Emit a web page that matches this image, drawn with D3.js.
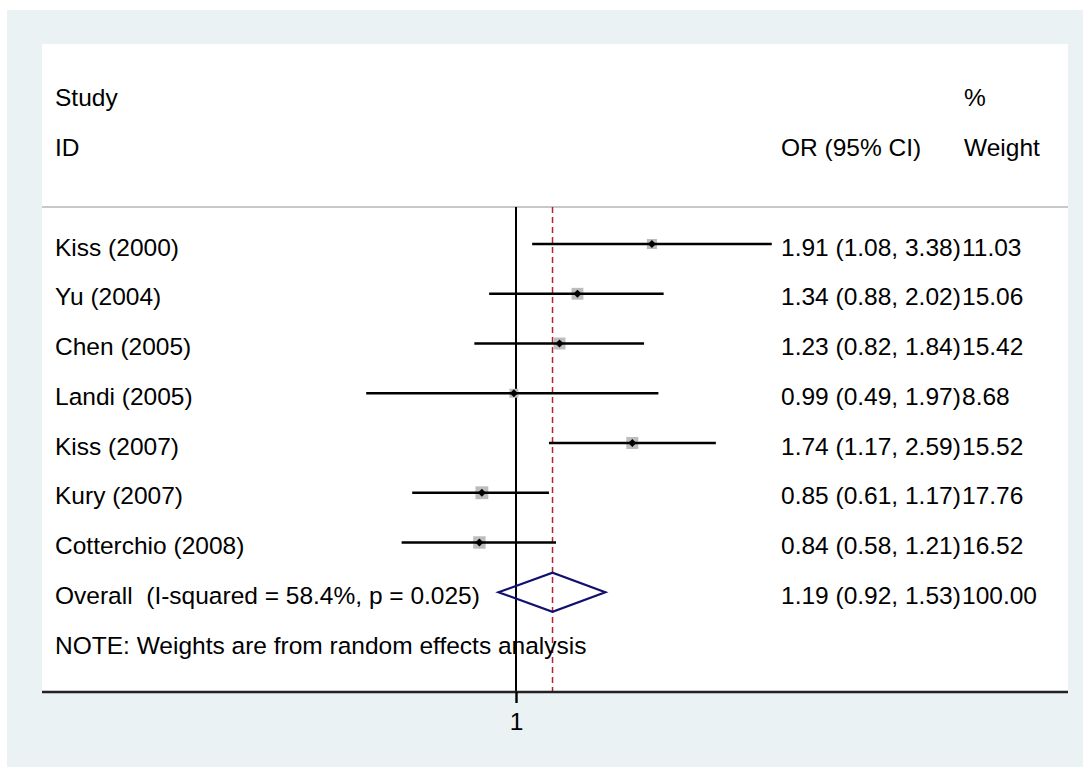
<!DOCTYPE html>
<html>
<head>
<meta charset="utf-8">
<script src="https://cdn.jsdelivr.net/npm/d3@7"></script>
<style>
  html, body { margin: 0; padding: 0; background: #ffffff; }
  svg { display: block; }
  text { font-family: "Liberation Sans", Arial, Helvetica, sans-serif; font-size: 24.5px; fill: #000; white-space: pre; }
</style>
</head>
<body>
<svg id="chart" width="1083" height="767"></svg>
<script>
// ---- data ----
const studies = ["Kiss (2000)", "Yu (2004)", "Chen (2005)", "Landi (2005)", "Kiss (2007)", "Kury (2007)", "Cotterchio (2008)"];
const orValues = [1.91, 1.34, 1.23, 0.99, 1.74, 0.85, 0.84];
const lowerCI = [1.08, 0.88, 0.82, 0.49, 1.17, 0.61, 0.58];
const upperCI = [3.38, 2.02, 1.84, 1.97, 2.59, 1.17, 1.21];
const weights = [11.03, 15.06, 15.42, 8.68, 15.52, 17.76, 16.52];
const overallLabel = "Overall  (I-squared = 58.4%, p = 0.025)";
const overallOR = [1.19, 0.92, 1.53];
const overallWeight = 100.00;
const xTicks = [1];
const noteText = "NOTE: Weights are from random effects analysis";

// ---- layout ----
const svg = d3.select("#chart");
const W = 1083, H = 767;
const outer = {x: 7, y: 10};
const plot = {x0: 42, x1: 1068, y0: 44, y1: 692};
const fmt = d3.format(".2f");

// log scale: 1 -> 516, ~210 px per ln unit
const x = d3.scaleLog().domain([0.5, 2]).range([516 - 210 * Math.LN2, 516 + 210 * Math.LN2]);
const y = d3.scaleLinear().domain([0, 8]).range([244, 642]);
const boxSide = d3.scaleSqrt().domain([0, 100]).range([0, 30.5]);

// backgrounds
svg.append("rect").attr("x", outer.x).attr("y", outer.y).attr("width", W - outer.x).attr("height", H - outer.y).attr("fill", "#eaf2f3");
svg.append("rect").attr("x", plot.x0).attr("y", plot.y0).attr("width", plot.x1 - plot.x0).attr("height", plot.y1 - plot.y0).attr("fill", "#ffffff");

const textDy = 11.5;
const colOR = 781, colW = 962, colStudy = 55;

// headers
svg.append("text").attr("x", colStudy).attr("y", y(-3) + textDy).text("Study");
svg.append("text").attr("x", colStudy).attr("y", y(-2) + textDy).text("ID");
svg.append("text").attr("x", colW + 2).attr("y", y(-3) + textDy).text("%");
svg.append("text").attr("x", colW + 2).attr("y", y(-2) + textDy).text("Weight");
svg.append("text").attr("x", colOR).attr("y", y(-2) + textDy).text("OR (95% CI)");

// header separator
const topLineY = 207;
svg.append("line").attr("x1", plot.x0).attr("x2", plot.x1).attr("y1", topLineY).attr("y2", topLineY)
  .attr("stroke", "#c8c8c8").attr("stroke-width", 2);

// null line and overall dashed line
svg.append("line").attr("x1", x(1)).attr("x2", x(1)).attr("y1", topLineY).attr("y2", plot.y1)
  .attr("stroke", "#000").attr("stroke-width", 2);
svg.append("line").attr("x1", x(overallOR[0])).attr("x2", x(overallOR[0])).attr("y1", topLineY).attr("y2", plot.y1)
  .attr("stroke", "#b22234").attr("stroke-width", 1.5).attr("stroke-dasharray", "6,4");

// study rows
const rows = studies.map((s, i) => ({s, or: orValues[i], lo: lowerCI[i], hi: upperCI[i], w: weights[i], i}));
const g = svg.append("g");
rows.forEach(d => {
  const cy = y(d.i);
  const side = boxSide(d.w);
  g.append("rect").attr("x", x(d.or) - side / 2).attr("y", cy - side / 2).attr("width", side).attr("height", side)
    .attr("fill", "#bdbdbd");
  g.append("line").attr("x1", x(d.lo)).attr("x2", x(d.hi)).attr("y1", cy).attr("y2", cy)
    .attr("stroke", "#000").attr("stroke-width", 2.4);
  const px = x(d.or), r = 4;
  g.append("path").attr("d", `M${px - r},${cy}L${px},${cy - r}L${px + r},${cy}L${px},${cy + r}Z`).attr("fill", "#000");
  g.append("text").attr("x", colStudy).attr("y", cy + textDy).text(d.s);
  g.append("text").attr("x", colOR).attr("y", cy + textDy).text(`${fmt(d.or)} (${fmt(d.lo)}, ${fmt(d.hi)})`);
  g.append("text").attr("x", colW).attr("y", cy + textDy).text(fmt(d.w));
});

// overall
const oy = y(7);
const hh = 19.5;
svg.append("path")
  .attr("d", `M${x(overallOR[1])},${oy}L${x(overallOR[0])},${oy - hh}L${x(overallOR[2])},${oy}L${x(overallOR[0])},${oy + hh}Z`)
  .attr("fill", "none").attr("stroke", "#10106e").attr("stroke-width", 2.2);
svg.append("text").attr("x", colStudy).attr("y", oy + textDy).attr("xml:space", "preserve").text(overallLabel);
svg.append("text").attr("x", colOR).attr("y", oy + textDy).text(`${fmt(overallOR[0])} (${fmt(overallOR[1])}, ${fmt(overallOR[2])})`);
svg.append("text").attr("x", colW).attr("y", oy + textDy).text(fmt(overallWeight));

// note
svg.append("text").attr("x", colStudy).attr("y", y(8) + textDy).text(noteText);

// x axis
svg.append("line").attr("x1", plot.x0).attr("x2", plot.x1).attr("y1", plot.y1).attr("y2", plot.y1)
  .attr("stroke", "#222").attr("stroke-width", 2.4);
const axis = svg.append("g").attr("transform", `translate(0,${plot.y1})`)
  .call(d3.axisBottom(x).tickValues(xTicks).tickFormat(d3.format("d")).tickSize(11).tickSizeOuter(0));
axis.select(".domain").remove();
axis.selectAll(".tick line").attr("stroke", "#000").attr("stroke-width", 2.4);
axis.selectAll(".tick text").attr("font-size", 24.5).attr("font-family", "Liberation Sans, Arial, sans-serif")
  .attr("fill", "#000").attr("dy", null).attr("y", 38);
</script>
</body>
</html>
